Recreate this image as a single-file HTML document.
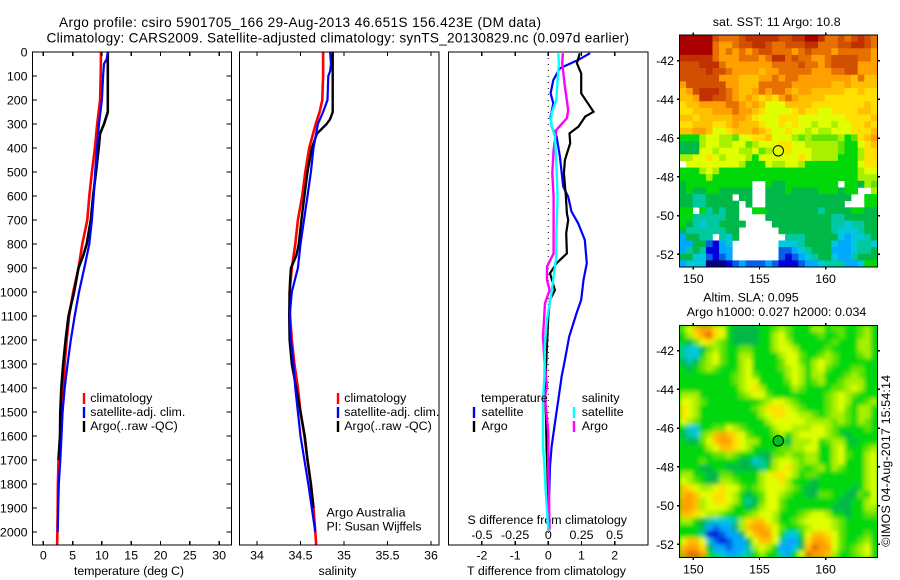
<!DOCTYPE html>
<html>
<head>
<meta charset="utf-8">
<title>Argo profile</title>
<style>
html,body{margin:0;padding:0;background:#fff;}
svg{display:block;}
text{font-family:"Liberation Sans",sans-serif;font-size:12.4px;fill:#000;}
.t{font-size:13.6px;}
</style>
</head>
<body>
<svg id="fig" width="900" height="580" viewBox="0 0 900 580" xmlns="http://www.w3.org/2000/svg">
<defs>
<clipPath id="c1"><rect x="32.5" y="52" width="199" height="493"/></clipPath>
<clipPath id="c2"><rect x="239.5" y="52" width="199.5" height="493"/></clipPath>
<clipPath id="c3"><rect x="448.5" y="52" width="199.5" height="493"/></clipPath>
<clipPath id="cm2"><rect x="679.5" y="325.5" width="198" height="232"/></clipPath>
<filter id="soft" x="-5%" y="-5%" width="110%" height="110%"><feGaussianBlur stdDeviation="2.2"/></filter>
</defs>
<text class="t" x="59" y="27" textLength="482">Argo profile: csiro 5901705_166 29-Aug-2013 46.651S 156.423E (DM data)</text>
<text class="t" x="46.5" y="42.7" textLength="582.5">Climatology: CARS2009. Satellite-adjusted climatology: synTS_20130829.nc (0.097d earlier)</text>
<text x="74" y="575" textLength="110">temperature (deg C)</text>
<text x="318.5" y="575" textLength="38">salinity</text>
<text x="467" y="575" textLength="159">T difference from climatology</text>
<text x="467.5" y="524" textLength="159.5">S difference from climatology</text>
<text x="326.5" y="516.7" textLength="79">Argo Australia</text>
<text x="326.5" y="530.7" textLength="95">PI: Susan Wijffels</text>
<text x="712.7" y="26" textLength="128">sat. SST: 11 Argo: 10.8</text>
<text x="703.3" y="301.7" textLength="95.4">Altim. SLA: 0.095</text>
<text x="686.7" y="316" textLength="179.6">Argo h1000: 0.027 h2000: 0.034</text>
<text transform="translate(890,546.7) rotate(-90)" textLength="171.7">©IMOS 04-Aug-2017 15:54:14</text>
<g id="layer"></g>
</svg>
<script>
// ---- chart data ----
const depthTicks = [0,100,200,300,400,500,600,700,800,900,1000,1100,1200,1300,1400,1500,1600,1700,1800,1900,2000];
const tempTicks = [0,5,10,15,20,25,30];
const salTicks = [34,34.5,35,35.5,36];
const salTickLabels = ['34','34.5','35','35.5','36'];
const tDiffTicks = [-2,-1,0,1,2];
const sDiffTicks = [-0.5,-0.25,0,0.25,0.5];
const sDiffLabels = ['-0.5','-0.25','0','0.25','0.5'];
const lonTicks = [150,155,160];
const latTicks = [-42,-44,-46,-48,-50,-52];

const tempClimDepth = [0,100,200,300,400,500,600,700,800,900,1000,1100,1200,1300,1400,1500,1600,1700,1800,1900,2000,2054];
const tempClimValue = [9.85,9.8,9.7,9.2,8.8,8.3,7.85,7.5,6.65,6,5.1,4.4,4,3.65,3.4,3.25,2.9,2.6,2.5,2.45,2.4,2.35];
const tempArgoDepth = [0,250,270,300,340,400,500,600,700,800,850,900,1000,1100,1200,1300,1400,1500,1600,1700];
const tempArgoValue = [11,11,10.75,10.35,9.7,9.45,9,8.5,8.1,7.4,6.8,6,5.25,4.3,3.8,3.4,3.07,2.9,2.85,2.6];
const tempSatDepth = [0,30,50,100,200,300,400,500,600,700,800,900,1000,1100,1200,1300,1400,1500,1600,1700,1800,1900,2000];
const tempSatValue = [11,10.8,10.35,10.2,10,9.5,9.15,8.85,8.6,8.3,7.85,7,6.1,5.35,4.7,4.15,3.65,3.3,3.1,2.9,2.65,2.55,2.45];

const salClimDepth = [0,100,200,250,300,400,500,600,700,800,900,1000,1100,1200,1300,1400,1500,1600,1700,1800,1900,2000,2054];
const salClimValue = [34.76,34.76,34.75,34.72,34.675,34.6,34.555,34.52,34.47,34.44,34.4,34.375,34.38,34.4,34.43,34.47,34.5,34.545,34.58,34.62,34.65,34.67,34.68];
const salArgoDepth = [0,250,280,300,340,400,500,600,700,800,850,900,950,1000,1100,1200,1300,1400,1500,1600,1700,1800,1900];
const salArgoValue = [34.87,34.87,34.84,34.8,34.69,34.63,34.58,34.545,34.51,34.48,34.45,34.39,34.38,34.375,34.37,34.375,34.4,34.45,34.5,34.55,34.58,34.62,34.65];
const salSatDepth = [0,50,80,100,200,250,300,400,500,600,700,800,900,1000,1100,1200,1300,1400,1500,1600,1700,1800,1900,2000];
const salSatValue = [34.84,34.85,34.84,34.82,34.81,34.76,34.7,34.65,34.62,34.58,34.54,34.5,34.47,34.4,34.375,34.39,34.42,34.44,34.47,34.5,34.545,34.59,34.63,34.67];

const dTSatDepth = [5,33,68,117,172,214,269,311,353,436,561,603,665,714,783,880,950,1033,1089,1186,1283,1353,1450,1547,1644,1728,1867,1990];
const dTSatValue = [1.26,0.9,0.35,0.15,0.07,0.15,0.07,0.1,0.25,0.35,0.45,0.6,0.7,0.9,1.1,1.16,1.06,0.99,0.85,0.63,0.5,0.4,0.3,0.2,0.1,0.05,0.02,0];
const dTArgoDepth = [5,47,89,172,249,269,311,339,380,450,505,603,672,700,755,839,880,922,992,1033,1102,1255,1436,1519,1658,1728,1867,1990];
const dTArgoValue = [0.95,0.86,0.99,0.99,1.36,1.11,0.91,0.64,0.66,0.5,0.47,0.53,0.56,0.6,0.54,0.56,0.25,0.05,0.2,0.05,0,-0.05,-0.1,-0.07,-0.05,-0.03,0,0.02];
const dSArgoDepth = [5,47,144,242,276,325,408,505,603,769,839,894,950,992,1047,1186,1283,1394,1436,1589,1728,1990];
const dSArgoValue = [0.11,0.105,0.125,0.15,0.14,0.06,0.04,0.03,0.04,0.04,0.04,-0.01,-0.01,0.01,-0.025,-0.04,-0.03,-0.01,-0.025,0,0,0.01];
const dSSatDepth = [5,47,117,200,255,297,353,464,603,769,853,936,1019,1047,1116,1214,1353,1450,1644,1714,1825,1908,1990];
const dSSatValue = [0.075,0.08,0.07,0.06,0.025,0.02,0.05,0.06,0.07,0.06,0.06,0.04,0.02,0.01,-0.01,-0.025,-0.03,-0.04,-0.04,-0.03,-0.02,-0.01,0];

// colour level per letter, '.' = no data
const levelColours = {a:'#000080',b:'#0000d8',c:'#0060e8',d:'#00a8ff',e:'#00c8d8',f:'#00c8a0',g:'#00b848',h:'#00d808',i:'#60e400',j:'#a8f000',k:'#e0ff00',l:'#ffe000',m:'#ffc000',n:'#ffa000',o:'#e87000',p:'#d05000',q:'#c03000',r:'#a80000'};

const sstGrid = [
'rrrrrpooopqqqqqppqqrrqoopopqpo',
'rrrrronnoppqqpoopppqqoooppqqpo',
'rrrrronononoppooonopooonooooon',
'qqqqqonnnooonoqqopoonnoppppoon',
'pppqqqonnnnnnnoooopoonoppppnnn',
'ppppqpponnnnmnnooooonnnooppnnn',
'ppppppnnnmmmnnonoonnnnnnnnmomm',
'nppppppnnmmmooooonnnnnnmmnmmmm',
'mnpqqqponmmnonoonmnnmmmmmllmll',
'mmnqqpponmnmlmlnonmmmmllllllll',
'lmmnnnnoonmnmkkkmmmmllllllllml',
'llmmmnnnonnmlkkkklmllkkllllmml',
'mmlmmmmmnnmlkkklllkkkkkkkllllm',
'llmmmllmnmmmlkklklkkjkkjkkllml',
'mmnnmkklmmmnmlkklkkjkjjkkklllm',
'hhhjkkjjikkllmkkkjijiiiijhilmn',
'gggjkkjjkkijkkkllkkjjjjjihhklm',
'gggkkjkkkjjkijkklkkkjjjjihhjll',
'jjkklkjkkkjhkkkkkklkjjjjhhhjll',
'.kkkkkkkkjhhhkjjkkjhhhhhhhhkll',
'hhhjkjhhhhhhhhhhhhhhhhhhhhhjkk',
'hhhhjhhhhhhhhhhhhhhhhhhhhhhjjj',
'ghhhhhhhhhh..hgghhhhhhhh.hhgji',
'ghgghhggggg..ggghgggghhhghh..j',
'ggffgggg.gg..ggggggggggggg..hh',
'ggffggggg.g..gggggggggggg...hh',
'hh.hfgfgg..hhggggggggfgggghhgg',
'hhfffffgg....ggggggggggffggggg',
'hgfeffgggg....gggggggggffeffgg',
'gffffffgg......ggggggggfeeefgg',
'dggff.feg.......fffgggggedeefg',
'ddggcbde.......eeefggggeddeffe',
'dfgfbbdd.......ccdefgggdddeffg',
'ggeecbcd.......cbcdefggeddfggg',
'deeeaaabcdcccdcbbbcddefffddehh'
];

const slaGrid = [
'ikmnnlkhgggghhijihhhjjhiihhijh',
'hjlnolkhgggghhjkihhhhihhihhijh',
'hgikljihgggghhjkjhhhhhhihhhjjh',
'feegijihhiihhhjkkjhhhhihhhhjjh',
'feehjkihhjjhhhhjkkihhijihhhijh',
'gfgijkihhjkhhhhikkihjkjihhhhhh',
'hghijihhhjkhhhhijkjhjkihhhiihh',
'hhhhhhhhijkihhhhjkjhjjhhhijihh',
'hhhhhhhhijkkhhhhikjhijhhijjjhh',
'hhhhhhhhhjkljhhhhjihhhhiijkjhh',
'jjjhhhhhhijkkihhhhhhhhijkjihhh',
'kkjihhhhhhhhijkkjihhhhijkjhhij',
'lkjhhhhhhhhijlllkjihhhijkihjjh',
'lkjhhhhhhhhhjkllkkjjihijjihjjh',
'kjihhhhhhhhhhjkkkkkjjjjijihjih',
'heehhiikjihhhhjkkjjjkkjihhhhih',
'gfeijmnmlkihhhijhjkkkkjihghhhh',
'hggikmnnlkjjhhhhgjjjkhijjhghhh',
'hhhhjkmmlkjhhhhiijjkkhhjkhhhij',
'hhhhhiijihhhggiijiijjhhjkihhjk',
'hhhihhhhhggefgjkkjijjhhjkhhhjk',
'hhhgghhgggggfhjkljihijhjihhhjk',
'jjhhggiihhhhjkllkjhiihhhhhhhjk',
'kjihggjjihhhjkkljhhhghhhhhhhjk',
'mlkjjklkkihijkkkjihgghhhhhghjk',
'mnmkkllkjhghikkjihhggiihhggihk',
'nnmjkllkjhfgikkihhhhhhhhgghhjk',
'nnmjkkkjhhghjkkihhhhhhhggghhjj',
'mmlkjjihhhijkkjhhhijkkjhhghhii',
'jjhgfeeefjlmmkjhhijkkkkjihhhhh',
'hhhgdcddgjmnnmkihhijkkkjihhhhh',
'hhhfbbcddgkmnnkheehkmmlkihhhih',
'kmmkecbcddgkmmkfddglnnmkihhijh',
'mnnlgddcddfjkjhddegmonnkihijkh',
'noonhfeddefhjhhedhkonnmjhhijkh'
];

const ns = 'http://www.w3.org/2000/svg';
const layer = document.getElementById('layer');

// ---- axis functions ----
const depthY = d => 52 + 0.24 * d;
const tempX = v => 43.3 + 5.86 * v;
const salX = v => 257 + 87 * (v - 34);
const dTX = v => 548.3 + 33.2 * v;
const dSX = v => 548.3 + 132.8 * v;
const lonX = v => 693.3 + 13.23 * (v - 150);
const latY1 = v => 60.7 + 19.37 * (-42 - v);
const latY2 = v => 350.7 + 19.37 * (-42 - v);

function mk(tag, attrs, name, parent) {
  const el = document.createElementNS(ns, tag);
  for (const k in attrs) el.setAttribute(k, attrs[k]);
  
  
  (parent || layer).appendChild(el);
  return el;
}
function seg(x1, y1, x2, y2, name, parent) {
  return mk('line', {x1, y1, x2, y2, stroke: '#000', 'stroke-width': 1.4, 'shape-rendering': 'crispEdges'}, name, parent);
}
function label(x, y, str, anchor, name, parent) {
  const t = mk('text', {x, y, 'text-anchor': anchor}, name, parent);
  t.textContent = str;
  return t;
}
function profile(xs, ys, xFn, colour, width, clip, name) {
  const pts = xs.map((v, i) => xFn(v).toFixed(1) + ',' + depthY(ys[i]).toFixed(1)).join(' ');
  mk('polyline', {points: pts, fill: 'none', stroke: colour, 'stroke-width': width, 'stroke-linejoin': 'miter', 'clip-path': 'url(#' + clip + ')'}, name);
}
function box(x, y, w, h, name) {
  mk('rect', {x, y, width: w, height: h, fill: 'none', stroke: '#000', 'stroke-width': 1.4, 'shape-rendering': 'crispEdges'}, name);
}
function legendBar(x, y, colour, name) {
  mk('rect', {x: x - 1.2, y, width: 2.4, height: 11, fill: colour}, name);
}

// ---- profile panels: marks ----
profile(tempClimValue, tempClimDepth, tempX, '#ff0000', 2.6, 'c1', 'temperature-climatology-line');
profile(tempArgoValue, tempArgoDepth, tempX, '#000000', 2.6, 'c1', 'temperature-argo-line');
profile(tempSatValue, tempSatDepth, tempX, '#0000ff', 2.2, 'c1', 'temperature-satellite-line');
profile(salClimValue, salClimDepth, salX, '#ff0000', 2.6, 'c2', 'salinity-climatology-line');
profile(salArgoValue, salArgoDepth, salX, '#000000', 2.4, 'c2', 'salinity-argo-line');
profile(salSatValue, salSatDepth, salX, '#0000ff', 2.2, 'c2', 'salinity-satellite-line');

mk('line', {x1: dTX(0), y1: 52, x2: dTX(0), y2: 545, stroke: '#000', 'stroke-width': 1, 'stroke-dasharray': '1 5'}, 'zero-difference-line');
profile(dTSatValue, dTSatDepth, dTX, '#0000ff', 2.2, 'c3', 'delta-temperature-satellite-line');
profile(dTArgoValue, dTArgoDepth, dTX, '#000000', 2.2, 'c3', 'delta-temperature-argo-line');
profile(dSArgoValue, dSArgoDepth, dSX, '#ff00ff', 2.4, 'c3', 'delta-salinity-argo-line');
profile(dSSatValue, dSSatDepth, dSX, '#00ffff', 2.4, 'c3', 'delta-salinity-satellite-line');

// ---- profile panels: frames and ticks ----
box(32.5, 52, 199, 493, 'temperature-panel-frame');
box(239.5, 52, 199.5, 493, 'salinity-panel-frame');
box(448.5, 52, 199.5, 493, 'difference-panel-frame');

depthTicks.forEach(d => {
  seg(32.5, depthY(d), 37, depthY(d), 'depth-tick-left');
  seg(226.5, depthY(d), 231.5, depthY(d), 'depth-tick-right');
  label(27.5, depthY(d) + 4.4, String(d), 'end', 'depth-tick-label');
});
tempTicks.forEach(v => {
  seg(tempX(v), 52, tempX(v), 56, 'temperature-tick-top');
  seg(tempX(v), 541, tempX(v), 545, 'temperature-tick-bottom');
  label(tempX(v), 559.3, String(v), 'middle', 'temperature-tick-label');
});
salTicks.forEach((v, i) => {
  seg(salX(v), 52, salX(v), 56, 'salinity-tick-top');
  seg(salX(v), 541, salX(v), 545, 'salinity-tick-bottom');
  label(salX(v), 559.3, salTickLabels[i], 'middle', 'salinity-tick-label');
});
tDiffTicks.forEach(v => {
  seg(dTX(v), 52, dTX(v), 56, 'difference-tick-top');
  seg(dTX(v), 541, dTX(v), 545, 'difference-tick-bottom');
  label(dTX(v), 559.3, String(v), 'middle', 't-difference-tick-label');
});
sDiffTicks.forEach((v, i) => {
  label(dSX(v), 539, sDiffLabels[i], 'middle', 's-difference-tick-label');
});

// ---- legends ----
legendBar(84, 393, '#ff0000', 'legend-swatch-climatology');
legendBar(84, 407, '#0000ff', 'legend-swatch-satellite');
legendBar(84, 421, '#000000', 'legend-swatch-argo');
label(90.3, 402, 'climatology', 'start', 'legend-label-climatology');
label(90.3, 416, 'satellite-adj. clim.', 'start', 'legend-label-satellite');
label(90.3, 430, 'Argo(..raw -QC)', 'start', 'legend-label-argo');
legendBar(338, 393, '#ff0000', 'salinity-legend-swatch-climatology');
legendBar(338, 407, '#0000ff', 'salinity-legend-swatch-satellite');
legendBar(338, 421, '#000000', 'salinity-legend-swatch-argo');
label(344.3, 402, 'climatology', 'start', 'salinity-legend-label-climatology');
label(344.3, 416, 'satellite-adj. clim.', 'start', 'salinity-legend-label-satellite');
label(344.3, 430, 'Argo(..raw -QC)', 'start', 'salinity-legend-label-argo');
label(481, 402, 'temperature', 'start', 'difference-legend-temperature-heading');
label(481.5, 416, 'satellite', 'start', 'difference-legend-temperature-satellite');
label(481.5, 430, 'Argo', 'start', 'difference-legend-temperature-argo');
label(581.7, 402, 'salinity', 'start', 'difference-legend-salinity-heading');
label(581.7, 416, 'satellite', 'start', 'difference-legend-salinity-satellite');
label(581.7, 430, 'Argo', 'start', 'difference-legend-salinity-argo');
legendBar(474, 407, '#0000ff', 'difference-legend-swatch-temperature-satellite');
legendBar(474, 421, '#000000', 'difference-legend-swatch-temperature-argo');
legendBar(574, 407, '#00ffff', 'difference-legend-swatch-salinity-satellite');
legendBar(574, 421, '#ff00ff', 'difference-legend-swatch-salinity-argo');

// ---- maps ----
function heatmap(grid, left, top, w, h, parent, name) {
  const rows = grid.length, cols = 30;
  const cw = w / cols, ch = h / rows;
  grid.forEach((row, r) => {
    for (let c = 0; c < cols; c++) {
      const key = row[c] || row[row.length - 1];
      if (key === '.') continue;
      mk('rect', {x: (left + c * cw).toFixed(2), y: (top + r * ch).toFixed(2), width: (cw + 0.3).toFixed(2), height: (ch + 0.3).toFixed(2), fill: levelColours[key]}, name, parent);
    }
  });
}
function mapAxes(top, latFn, prefix) {
  box(679.5, top, 198, 232, prefix + '-map-frame');
  latTicks.forEach(v => {
    seg(677, latFn(v), 679.5, latFn(v), prefix + '-lat-tick-left');
    seg(877.5, latFn(v), 880, latFn(v), prefix + '-lat-tick-right');
    label(674, latFn(v) + 4.4, String(v), 'end', prefix + '-lat-label');
  });
  lonTicks.forEach(v => {
    seg(lonX(v), top - 2.5, lonX(v), top, prefix + '-lon-tick-top');
    seg(lonX(v), top + 232, lonX(v), top + 234.5, prefix + '-lon-tick-bottom');
    label(lonX(v), top + 248, String(v), 'middle', prefix + '-lon-label');
  });
}

const sstGroup = mk('g', {}, 'sst-map-cells');
heatmap(sstGrid, 679.5, 35, 198, 232, sstGroup, 'sst-cell');
mapAxes(35, latY1, 'sst');
mk('circle', {cx: lonX(156.423), cy: latY1(-46.651), r: 5.2, fill: 'none', stroke: '#000', 'stroke-width': 1}, 'sst-argo-location-marker');

const slaClip = mk('g', {'clip-path': 'url(#cm2)'}, 'sla-map-clip');
mk('rect', {x: 679.5, y: 325.5, width: 198, height: 232, fill: '#00d808'}, 'sla-map-background', slaClip);
const slaGroup = mk('g', {filter: 'url(#soft)'}, 'sla-map-cells', slaClip);
heatmap(slaGrid, 679.5, 325.5, 198, 232, slaGroup, 'sla-cell');
mapAxes(325.5, latY2, 'sla');
mk('circle', {cx: lonX(156.423), cy: latY2(-46.651), r: 5.2, fill: '#00c020', stroke: '#000', 'stroke-width': 1}, 'sla-argo-location-marker');
</script>
</body>
</html>
